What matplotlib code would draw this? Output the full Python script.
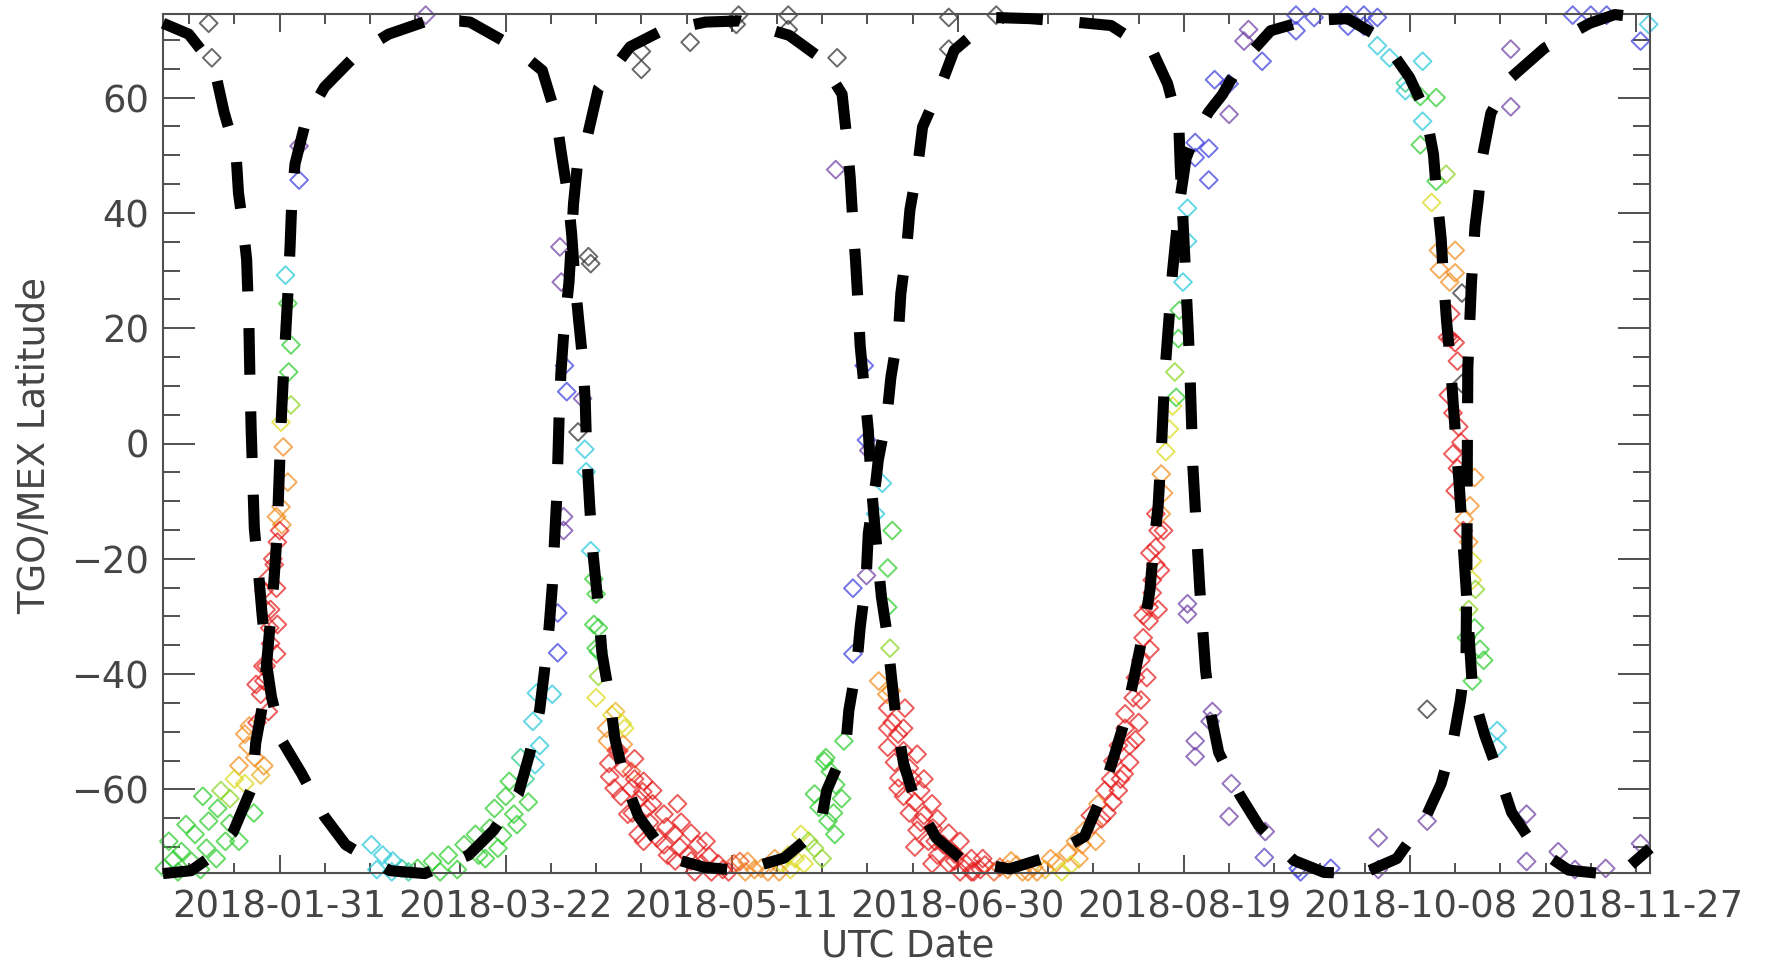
import numpy as np
import matplotlib
matplotlib.use('Agg')
import matplotlib.pyplot as plt
import matplotlib.dates as mdates
from matplotlib.colors import LinearSegmentedColormap
from matplotlib.ticker import FixedLocator
import datetime as dt

# ---------------- data (days since 2018-01-01, latitude in deg) ----------------
tick_dates = ['2018-01-31', '2018-03-22', '2018-05-11', '2018-06-30',
              '2018-08-19', '2018-10-08', '2018-11-27']

c1_day = [4.2, 9.9, 12.9, 15.9, 17.7, 19.2, 20.4, 20.9, 21.9, 22.7, 23.2, 23.4, 23.7, 24.4,
          25.4, 26.1, 27.2, 28.2, 30.7, 34.9, 39.9, 44.6, 54.4, 62.1, 71.8, 77.3, 82.8, 85.3,
          87.5, 88.5, 89.6, 90.3, 90.8, 91.3, 91.8, 92.2, 92.8, 94.0, 95.0, 95.8, 97.8, 100.5,
          107.5, 114.0, 124.2, 131.9, 142.7, 149.2, 154.4, 155.3, 156.2, 156.7, 157.4, 157.9,
          158.4, 159.2, 160.2, 160.8, 161.6, 162.3, 163.1, 164.3, 165.4, 166.3, 168.0, 170.5,
          175.2, 181.1, 191.4, 199.6, 208.0, 211.5, 214.5, 217.0, 219.0, 221.0, 222.5, 223.3,
          224.3, 225.0, 225.8, 227.5, 229.0, 230.5, 232.5, 235.5, 238.5, 242.2, 249.2, 256.7,
          266.2, 273.9, 279.9, 283.4, 285.2, 285.9, 286.9, 287.4, 288.1, 288.9, 289.6, 290.9,
          292.4, 293.9, 296.5, 299.9, 302.5, 307.6, 315.1, 322.3, 328.6, 333.1]
c1_lat = [72.9, 71.0, 68.0, 63.9, 57.5, 53.4, 49.7, 43.4, 37.7, 31.9, 20.7, 12.3, 2.5, -14.7,
          -23.1, -29.5, -38.7, -44.0, -51.8, -57.3, -64.7, -69.6, -74.1, -74.6, -71.4, -67.1,
          -60.8, -53.8, -46.3, -39.9, -31.9, -24.8, -16.8, -9.2, 4.3, 12.1, 18.8, 28.0, 41.6,
          47.9, 52.4, 61.6, 68.8, 71.4, 73.1, 73.3, 70.8, 67.1, 60.6, 54.0, 46.1, 39.5, 31.5,
          24.8, 17.0, 10.4, 2.3, -6.5, -14.0, -20.0, -26.6, -32.8, -41.1, -47.5, -55.5, -61.8,
          -68.4, -72.3, -73.8, -71.8, -68.2, -61.8, -54.4, -47.9, -40.5, -32.8, -25.4, -18.0,
          -10.9, -1.4, 12.3, 29.9, 41.6, 49.5, 53.5, 57.5, 60.5, 65.5, 71.6, 73.3, 73.7, 70.2,
          63.5, 57.7, 50.2, 43.4, 35.6, 28.9, 21.3, 14.5, 6.6, -7.2, -24.8, -43.4, -50.5, -57.9,
          -64.0, -70.0, -74.0, -74.6, -73.3, -70.2]

c2_day = [4.2, 10.4, 14.7, 19.7, 23.9, 24.7, 26.4, 28.7, 29.4, 30.4, 30.9, 31.4, 31.9, 32.3,
          32.7, 33.4, 35.9, 39.9, 47.4, 54.1, 64.1, 72.1, 81.4, 88.1, 91.1, 92.3, 93.8, 94.6,
          95.3, 96.1, 97.1, 97.6, 97.9, 98.6, 99.3, 100.3, 101.3, 103.1, 104.1, 106.4, 109.4,
          116.1, 123.9, 129.3, 133.8, 141.6, 149.5, 151.0, 155.2, 155.9, 157.7, 158.4, 159.7,
          160.2, 161.9, 162.4, 164.4, 165.2, 166.9, 167.4, 168.7, 169.4, 171.2, 172.2, 176.4,
          179.2, 187.7, 195.9, 205.9, 213.9, 223.2, 226.4, 228.9, 229.2, 229.8, 230.2, 230.6,
          231.0, 231.4, 231.7, 232.0, 232.5, 233.0, 233.5, 234.2, 234.8, 236.0, 237.7, 242.4,
          246.6, 254.3, 261.0, 269.5, 277.1, 283.4, 286.9, 289.6, 291.1, 292.4, 292.6, 292.7,
          292.8, 293.6, 294.4, 295.1, 296.1, 297.9, 302.4, 309.8, 319.8, 325.3, 331.1, 333.1]
c2_lat = [-74.6, -74.1, -71.7, -67.4, -59.6, -52.0, -44.6, -24.2, -16.2, 4.9, 12.9, 20.0, 27.2,
          34.0, 42.2, 48.5, 56.3, 61.8, 67.8, 71.0, 73.7, 73.1, 69.0, 64.7, 56.9, 50.4, 42.8,
          36.2, 28.3, 21.7, 13.9, 7.2, -1.4, -11.1, -19.0, -26.8, -36.4, -44.6, -51.0, -58.7,
          -64.7, -71.8, -73.5, -73.9, -73.7, -71.9, -66.7, -60.2, -52.6, -46.3, -38.1, -31.9,
          -23.7, -15.6, -6.5, -2.9, 5.3, 11.5, 19.6, 26.0, 34.0, 40.5, 48.5, 54.9, 62.4, 68.2,
          73.9, 73.7, 73.1, 72.5, 67.8, 62.4, 54.9, 48.0, 38.7, 32.3, 25.4, 19.0, 11.0, 3.7,
          -4.1, -11.0, -18.0, -25.0, -32.6, -39.3, -47.0, -53.6, -61.0, -66.3, -72.3, -74.4,
          -74.6, -72.0, -65.0, -59.0, -51.4, -44.8, -37.5, -21.0, -1.4, 13.1, 27.8, 37.7, 42.2,
          50.0, 57.3, 63.5, 68.6, 72.9, 74.4, 73.9, 72.5]

# scatter groups: day, latitude, colour value (0 = black ... 1 = red)
g1_day = [4.5, 6.5, 8.3, 10.5, 11.3, 13.8, 14.3, 16.0, 16.3, 19.0,
          19.0, 21.0, 22.3, 25.8, 21.0, 26.5, 24.5, 22.3, 23.3, 27.5,
          25.8, 24.8, 26.5, 29.3, 27.8, 29.5, 29.3, 26.5, 27.5, 29.5,
          29.3, 30.3, 31.8, 30.8, 30.3, 32.5, 32.0, 32.5, 31.8, 31.3,
          34.3, 34.3, 14.3, 15.0, 62.3, 28.0, 27.0, 28.8, 30.5]
g1_lat = [-73.7, -72.2, -70.8, -72.5, -67.8, -70.2, -65.5, -72.0, -63.3, -61.6,
          -65.9, -69.0, -59.0, -57.5, -55.9, -55.9, -54.5, -50.4, -49.0, -46.5,
          -43.5, -41.8, -41.2, -36.5, -32.0, -31.4, -25.1, -25.5, -23.3, -17.1,
          -12.7, -11.0, -6.7, -0.6, 3.7, 6.7, 12.4, 17.1, 24.3, 29.2,
          45.7, 51.6, 72.9, 66.9, 74.3, -28.8, -38.6, -21.0, -14.1]
g1_val = [0.55, 0.55, 0.55, 0.55, 0.55, 0.55, 0.55, 0.55, 0.55, 0.63,
          0.55, 0.55, 0.70, 0.76, 0.82, 0.82, 0.82, 0.82, 0.82, 0.95,
          0.95, 0.95, 0.95, 0.95, 0.95, 0.95, 0.95, 0.95, 0.95, 0.95,
          0.82, 0.82, 0.82, 0.82, 0.70, 0.63, 0.55, 0.55, 0.55, 0.40,
          0.25, 0.12, 0.0, 0.0, 0.12, 0.95, 0.95, 0.95, 0.82]

g2_day = [50.3, 52.8, 51.5, 57.0, 60.5, 63.8, 67.3, 70.8, 73.3, 74.0,
          76.5, 78.3, 77.5, 81.8, 80.8, 85.0, 83.3, 86.5, 86.0, 86.8,
          90.3, 91.5, 91.5, 92.8, 92.8, 54.8]
g2_lat = [-69.6, -71.4, -73.9, -73.7, -73.7, -72.5, -71.4, -69.6, -67.8, -71.4,
          -66.7, -70.2, -63.3, -64.3, -58.6, -62.2, -54.5, -55.7, -48.2, -43.3,
          -43.5, -36.3, -29.4, -12.7, -15.1, -74.3]
g2_val = [0.40, 0.40, 0.40, 0.47, 0.55, 0.55, 0.55, 0.55, 0.55, 0.55,
          0.55, 0.55, 0.55, 0.55, 0.55, 0.55, 0.47, 0.40, 0.40, 0.40,
          0.40, 0.25, 0.25, 0.12, 0.12, 0.40]

g3_day = [92.0, 92.3, 93.0, 93.5, 97.0, 96.0, 97.5, 97.8, 98.3, 98.8]
g3_lat = [34.1, 28.0, 13.5, 9.0, 7.8, 2.0, -1.0, -4.9, 32.4, 31.2]
g3_val = [0.12, 0.12, 0.25, 0.25, 0.12, 0.0, 0.40, 0.40, 0.0, 0.0]

g4_day = [98.8, 99.5, 100.0, 99.5, 100.0, 100.5, 100.5, 100.5, 100.0, 103.5,
          104.3, 105.8, 106.3, 102.5, 106.0, 102.8, 107.8, 104.0, 107.8, 110.5,
          110.3, 107.0, 111.3, 115.0, 109.3, 113.5, 117.3, 115.8, 120.3, 122.5,
          123.3, 127.0, 130.5, 129.3, 125.5, 133.5, 136.5, 139.5, 138.0, 142.5,
          145.3, 143.0, 146.0, 148.3, 148.3, 150.5, 154.3, 151.3, 152.8, 154.8,
          150.8, 151.8, 156.8, 156.8, 159.8, 105.0, 108.5, 112.5, 118.0, 118.8,
          121.0, 124.3, 133.0, 140.5]
g4_lat = [-18.6, -23.5, -26.1, -31.4, -35.5, -32.0, -36.1, -40.4, -44.1, -47.1,
          -46.5, -48.6, -49.4, -51.6, -52.2, -55.5, -56.9, -59.8, -59.8, -58.6,
          -60.4, -64.3, -63.3, -64.3, -67.8, -68.4, -67.8, -71.4, -71.4, -69.6,
          -72.9, -72.9, -72.9, -74.3, -74.3, -72.5, -73.7, -72.0, -74.3, -71.4,
          -67.8, -73.9, -72.9, -70.2, -60.8, -55.1, -61.6, -65.5, -67.8, -51.6,
          -54.5, -56.9, -36.5, -25.1, -22.9, -53.3, -54.7, -60.2, -62.5, -65.7,
          -67.6, -69.0, -74.3, -74.3]
g4_val = [0.40, 0.55, 0.55, 0.55, 0.55, 0.55, 0.55, 0.63, 0.70, 0.70,
          0.76, 0.70, 0.70, 0.82, 0.82, 0.95, 0.88, 0.95, 0.95, 0.95,
          0.95, 0.95, 0.95, 0.95, 0.95, 0.95, 0.95, 0.95, 0.95, 0.95,
          0.95, 0.95, 0.88, 0.95, 0.95, 0.82, 0.82, 0.82, 0.82, 0.70,
          0.70, 0.70, 0.70, 0.63, 0.55, 0.55, 0.55, 0.55, 0.55, 0.55,
          0.55, 0.55, 0.25, 0.25, 0.12, 0.95, 0.95, 0.95, 0.95, 0.95,
          0.95, 0.95, 0.82, 0.82]

g5_day = [110.0, 110.0, 120.8, 131.5, 131.0, 142.5, 142.5, 153.3, 153.0, 178.0,
          178.0, 188.5, 159.3, 159.8, 160.3, 163.3, 164.5, 164.5, 165.0, 162.5,
          165.3, 161.8, 165.5]
g5_lat = [68.0, 64.9, 69.6, 74.3, 72.7, 74.3, 71.8, 66.9, 47.5, 73.9,
          68.4, 74.3, 13.5, 0.6, -1.2, -6.9, -21.6, -28.4, -35.5, -41.2,
          -42.9, -12.2, -15.1]
g5_val = [0.0, 0.0, 0.0, 0.0, 0.0, 0.0, 0.0, 0.0, 0.12, 0.0,
          0.0, 0.0, 0.25, 0.25, 0.12, 0.40, 0.55, 0.55, 0.63, 0.82,
          0.82, 0.40, 0.55]

g6_day = [164.5, 168.3, 164.5, 166.8, 164.5, 168.0, 167.0, 170.0, 168.0, 171.8,
          169.3, 172.5, 171.0, 174.5, 173.5, 176.8, 175.5, 179.3, 178.0, 181.8,
          180.5, 185.0, 188.0, 191.0, 194.3, 196.8, 199.3, 201.8, 204.3, 206.0,
          208.0, 209.3, 211.0, 212.5, 213.8, 214.3, 215.5, 217.0, 217.0, 218.8,
          219.3, 220.5, 221.0, 222.3, 222.3, 223.0, 223.0, 223.8, 223.8, 224.3,
          223.8, 225.5, 225.0, 226.0, 226.8, 227.5, 228.0, 228.3, 228.8, 229.0,
          229.8, 230.8, 230.8, 170.5, 174.3, 183.0, 185.5, 191.8, 195.5, 203.0,
          206.8, 210.5, 211.8, 214.3, 216.0, 218.0, 219.3]
g6_lat = [-45.9, -45.9, -49.4, -50.4, -52.7, -53.3, -58.0, -58.2, -61.2, -60.2,
          -64.1, -64.5, -67.1, -66.7, -69.0, -69.6, -71.4, -71.2, -72.9, -72.9,
          -74.3, -73.9, -74.3, -73.9, -74.3, -73.5, -73.9, -72.7, -71.0, -69.0,
          -67.1, -64.5, -62.5, -60.2, -58.2, -55.1, -52.4, -49.4, -46.9, -44.1,
          -40.6, -37.6, -33.7, -30.8, -28.4, -25.9, -23.7, -21.0, -18.0, -15.1,
          -12.2, -8.6, -5.3, -1.4, 2.5, 6.5, 12.4, 8.0, 18.2, 23.1,
          28.0, 35.1, 40.8, -70.0, -72.9, -74.3, -72.0, -72.4, -74.3, -74.3,
          -72.0, -69.0, -65.1, -62.2, -58.2, -55.3, -51.4]
g6_val = [0.95, 0.95, 0.95, 0.95, 0.95, 0.95, 0.95, 0.95, 0.95, 0.95,
          0.95, 0.95, 0.95, 0.95, 0.95, 0.95, 0.95, 0.95, 0.95, 0.95,
          0.95, 0.95, 0.88, 0.82, 0.82, 0.82, 0.76, 0.82, 0.82, 0.82,
          0.82, 0.95, 0.82, 0.95, 0.95, 0.95, 0.95, 0.95, 0.95, 0.95,
          0.95, 0.95, 0.95, 0.95, 0.95, 0.95, 0.95, 0.95, 0.95, 0.95,
          0.95, 0.82, 0.82, 0.70, 0.70, 0.70, 0.63, 0.55, 0.55, 0.55,
          0.40, 0.40, 0.40, 0.95, 0.95, 0.95, 0.95, 0.82, 0.82, 0.70,
          0.82, 0.82, 0.95, 0.95, 0.95, 0.95, 0.95]

g7_day = [230.8, 230.8, 236.3, 235.8, 232.5, 232.5, 240.5, 240.0, 248.0, 247.8,
          255.3, 255.8, 262.5, 273.0, 273.0, 283.8, 283.8, 305.8, 305.8, 312.8,
          316.5, 323.3, 331.0]
g7_lat = [-27.8, -29.6, -46.5, -48.2, -51.6, -54.3, -59.0, -64.7, -67.3, -71.8,
          -73.7, -74.3, -73.7, -68.4, -73.9, -46.1, -65.5, -64.3, -72.5, -70.8,
          -73.9, -73.7, -69.4]
g7_val = [0.12, 0.12, 0.12, 0.12, 0.12, 0.12, 0.12, 0.12, 0.12, 0.18,
          0.25, 0.25, 0.25, 0.12, 0.12, 0.0, 0.12, 0.12, 0.12, 0.12,
          0.12, 0.12, 0.12]

g8_day = [244.3, 243.3, 247.3, 236.8, 240.0, 240.0, 232.5, 235.5, 232.5, 235.5,
          254.8, 254.8, 258.8, 266.0, 266.3, 269.8, 269.8, 272.8, 272.8, 275.5,
          282.8, 279.0, 279.0, 282.3, 285.8, 282.8, 282.3, 285.8, 288.0, 284.8,
          286.3, 290.0, 286.5, 290.0, 291.5, 289.0, 288.3, 290.0, 291.5, 289.5,
          290.8, 289.5, 294.3, 290.0, 293.3, 293.8, 293.8, 294.5, 294.3, 292.5,
          296.3, 293.8, 299.3, 299.3, 302.3, 302.3, 316.0, 320.0, 323.5, 332.8,
          331.0, 291.8, 293.0]
g8_lat = [71.8, 69.8, 66.3, 63.1, 62.4, 57.1, 52.2, 51.2, 49.6, 45.7,
          74.3, 71.6, 73.9, 74.3, 72.4, 74.3, 72.4, 73.9, 69.0, 66.9,
          66.3, 62.5, 61.2, 60.2, 60.0, 55.9, 51.8, 45.5, 46.7, 41.8,
          33.5, 33.5, 30.2, 29.6, 26.1, 22.5, 18.4, 17.5, 10.4, 5.3,
          2.9, -1.8, -5.9, -8.2, -10.8, -20.4, -23.7, -25.3, -32.0, -33.7,
          -37.6, -41.2, -49.8, -52.7, 68.4, 58.4, 74.3, 74.3, 74.3, 72.7,
          69.8, -15.1, -17.1]
g8_val = [0.12, 0.12, 0.25, 0.25, 0.25, 0.12, 0.25, 0.25, 0.25, 0.25,
          0.25, 0.25, 0.25, 0.25, 0.25, 0.25, 0.25, 0.25, 0.40, 0.40,
          0.40, 0.47, 0.40, 0.55, 0.55, 0.40, 0.55, 0.55, 0.63, 0.70,
          0.82, 0.82, 0.82, 0.82, 0.0, 0.95, 0.95, 0.95, 0.0, 0.95,
          0.95, 0.95, 0.82, 0.95, 0.82, 0.70, 0.70, 0.63, 0.55, 0.55,
          0.55, 0.55, 0.40, 0.40, 0.12, 0.12, 0.25, 0.25, 0.25, 0.40,
          0.25, 0.95, 0.82]

g9_day = [102.3, 104.5, 106.0, 103.0, 108.5, 105.5, 109.5, 112.5, 108.0, 111.8,
          115.5, 110.5, 115.0, 118.5, 117.5, 121.0, 125.0, 121.8, 128.0, 131.8,
          135.0, 141.0, 144.0, 147.0, 150.0, 149.3, 153.0, 152.5]
g9_lat = [-49.4, -53.3, -56.3, -57.8, -58.2, -61.2, -61.8, -62.5, -64.1, -65.7,
          -66.5, -69.0, -69.6, -70.0, -72.4, -72.4, -71.6, -74.3, -73.9, -72.5,
          -73.9, -72.9, -72.0, -69.0, -72.0, -63.1, -59.2, -64.1]
g9_val = [0.82, 0.95, 0.95, 0.95, 0.95, 0.95, 0.95, 0.95, 0.95, 0.95,
          0.95, 0.95, 0.95, 0.95, 0.95, 0.95, 0.95, 0.95, 0.95, 0.88,
          0.82, 0.70, 0.70, 0.63, 0.63, 0.55, 0.55, 0.55]

g10_day = [164.3, 165.5, 168.0, 166.0, 169.3, 171.0, 172.5, 166.8, 170.5, 174.3,
           171.8, 175.5, 178.0, 175.0, 180.5, 179.3, 183.0, 186.0, 183.5, 189.3,
           193.0, 197.5, 200.5, 205.0, 207.5, 210.0, 213.0, 215.5, 216.8, 218.0,
           220.0, 220.5, 221.8, 222.5, 221.0, 224.3, 224.8, 222.5, 225.5, 225.0]
g10_lat = [-43.5, -48.4, -49.4, -55.3, -56.3, -53.9, -58.2, -59.8, -62.2, -62.5,
           -65.7, -65.1, -67.6, -69.0, -69.0, -72.4, -72.0, -73.1, -74.3, -73.5,
           -73.1, -74.3, -72.0, -73.1, -69.6, -66.1, -64.1, -60.2, -57.3, -52.4,
           -48.4, -44.5, -40.6, -35.7, -29.8, -28.8, -22.0, -19.0, -15.1, -12.2]
g10_val = [0.82, 0.95, 0.95, 0.95, 0.95, 0.95, 0.95, 0.95, 0.95, 0.95,
           0.95, 0.95, 0.95, 0.95, 0.95, 0.95, 0.95, 0.95, 0.95, 0.88,
           0.82, 0.82, 0.82, 0.70, 0.82, 0.88, 0.95, 0.95, 0.95, 0.95,
           0.95, 0.95, 0.95, 0.95, 0.95, 0.95, 0.95, 0.95, 0.95, 0.82]

g11_day = [25.0, 26.3, 28.0, 27.0, 28.5, 30.0, 23.0, 20.0, 17.0, 13.0,
           9.3, 5.5, 7.5, 12.5, 18.0, 24.3]
g11_lat = [-48.4, -38.6, -34.7, -28.8, -20.0, -15.1, -52.4, -58.2, -60.2, -61.2,
           -66.1, -69.0, -74.3, -73.9, -69.0, -64.1]
g11_val = [0.95, 0.95, 0.95, 0.95, 0.95, 0.95, 0.82, 0.70, 0.63, 0.55,
           0.55, 0.55, 0.55, 0.55, 0.55, 0.55]

g12_day = [55.0, 58.5, 65.5, 69.3, 75.5, 79.3, 82.5, 80.0, 84.3, 87.5]
g12_lat = [-72.4, -74.3, -74.3, -73.9, -72.0, -68.0, -66.1, -61.2, -58.2, -52.4]
g12_val = [0.40, 0.47, 0.55, 0.55, 0.55, 0.55, 0.55, 0.55, 0.47, 0.40]

g13_day = [289.0, 290.5, 288.5, 291.3, 290.5, 292.0, 288.8, 293.0, 295.5]
g13_lat = [18.2, 14.3, 8.4, 0.2, -4.3, -13.1, 28.0, -28.8, -35.7]
g13_val = [0.95, 0.95, 0.95, 0.95, 0.95, 0.82, 0.82, 0.63, 0.55]

groups = [(g1_day, g1_lat, g1_val), (g2_day, g2_lat, g2_val), (g3_day, g3_lat, g3_val),
          (g4_day, g4_lat, g4_val), (g5_day, g5_lat, g5_val), (g6_day, g6_lat, g6_val),
          (g7_day, g7_lat, g7_val), (g8_day, g8_lat, g8_val), (g9_day, g9_lat, g9_val),
          (g10_day, g10_lat, g10_val), (g11_day, g11_lat, g11_val),
          (g12_day, g12_lat, g12_val), (g13_day, g13_lat, g13_val)]

# ---------------- figure ----------------
W, H = 1768, 966
fig = plt.figure(figsize=(W / 100, H / 100), dpi=100)
ax = fig.add_axes([163 / W, (H - 873) / H, (1650 - 163) / W, (873 - 14) / H])

base = mdates.date2num(dt.datetime(2018, 1, 1))

cmap = LinearSegmentedColormap.from_list('idl_rainbow', [
    (0.00, '#303030'), (0.12, '#7040a8'), (0.25, '#3c3cdc'), (0.40, '#28c8dc'),
    (0.55, '#2ccc2c'), (0.70, '#dcdc1e'), (0.82, '#f28c1e'), (0.95, '#e61e1e'),
    (1.00, '#e61414')])

sx, sy, sv = [], [], []
for d, l, v in groups:
    n = min(len(d), len(l), len(v))
    sx += list(d[:n]); sy += list(l[:n]); sv += list(v[:n])
sx = base + np.array(sx)
ax.scatter(sx, sy, s=82, marker='D', facecolors='none',
           edgecolors=cmap(np.array(sv)), linewidths=1.4, alpha=0.72,
           clip_on=False, zorder=2)

for d, l in [(c1_day, c1_lat), (c2_day, c2_lat)]:
    n = min(len(d), len(l))
    ax.plot(base + np.array(d[:n]), l[:n], color='black', lw=8.0,
            dashes=(4.2, 3.3), dash_capstyle='butt', solid_joinstyle='round',
            clip_on=False, zorder=3)

ax.set_xlim(base + 4.2, base + 333.1)
ax.set_ylim(-74.5, 74.5)

major_x = mdates.datestr2num(tick_dates)
ax.xaxis.set_major_locator(FixedLocator(major_x))
ax.xaxis.set_major_formatter(mdates.DateFormatter('%Y-%m-%d'))
ax.xaxis.set_minor_locator(FixedLocator(base + np.arange(10, 340, 10)))
ax.yaxis.set_major_locator(FixedLocator([-60, -40, -20, 0, 20, 40, 60]))
ax.yaxis.set_minor_locator(FixedLocator(np.arange(-70, 75, 5)))

tc = '#454545'
ax.tick_params(axis='x', which='major', direction='in', length=13, width=1.4,
               top=True, bottom=True, labelsize=26.6, pad=11.5, color='#505050',
               labelcolor=tc)
ax.tick_params(axis='x', which='minor', direction='in', length=7, width=1.4,
               top=True, bottom=True, color='#505050')
ax.tick_params(axis='y', which='major', direction='in', length=23, width=1.4,
               left=True, right=True, labelsize=26.6, pad=10, color='#505050',
               labelcolor=tc)
ax.tick_params(axis='y', which='minor', direction='in', length=12, width=1.4,
               left=True, right=True, color='#505050')
for sp in ax.spines.values():
    sp.set_color('#505050')
    sp.set_linewidth(1.5)

fig.text(0.0195, 1 - 445 / H, 'TGO/MEX Latitude', rotation=90, ha='center',
         va='center', fontsize=26.6, color=tc)
fig.text(908 / W, 1 - 957 / H, 'UTC Date', ha='center', va='baseline',
         fontsize=26.6, color=tc)

fig.savefig('out.png', dpi=100)
